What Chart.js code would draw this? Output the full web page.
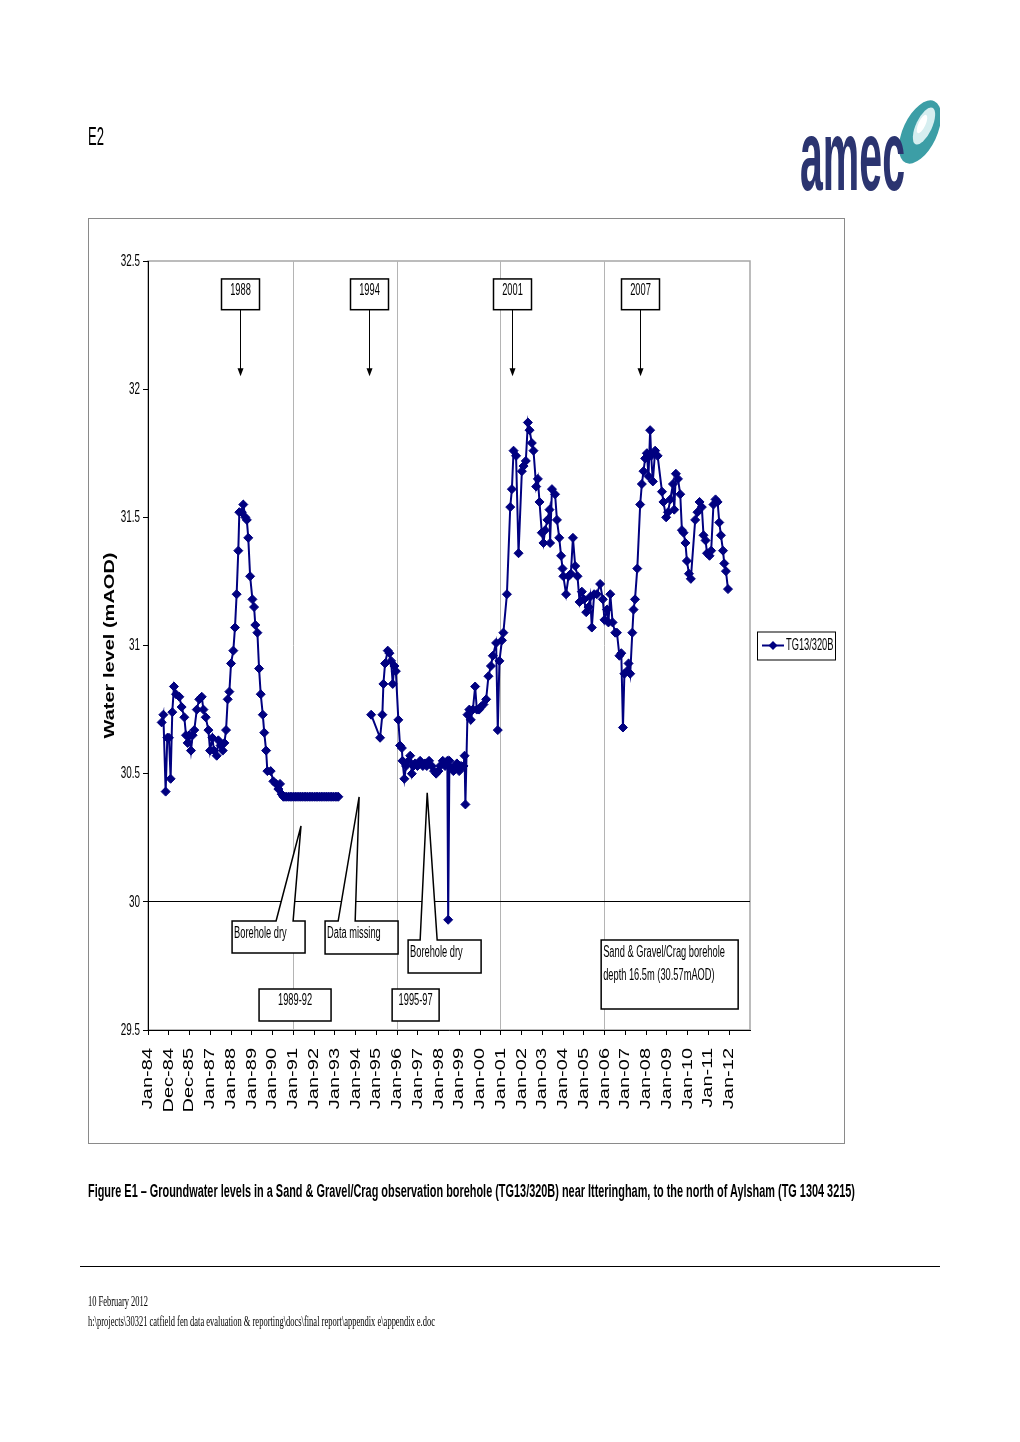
<!DOCTYPE html>
<html>
<head>
<meta charset="utf-8">
<script src="https://cdn.jsdelivr.net/npm/chart.js@4.4.0/dist/chart.umd.min.js"></script>
<style>
  body { margin: 0; background: #fff; width: 1020px; height: 1442px; position: relative; overflow: hidden; }
  .texto { position: absolute; white-space: nowrap; transform-origin: 0 0; line-height: 1; color: #000; filter: grayscale(1); }
  #e2 { left: 88px; top: 122px; font: 25px "Liberation Sans", Arial, sans-serif; }
  #logo { position: absolute; left: 790px; top: 95px; }
  #grafico { position: absolute; left: 88px; top: 218px; }
  #titulo { left: 88px; top: 1181px; font: bold 18px "Liberation Sans", Arial, sans-serif; }
  #regua { position: absolute; left: 80px; top: 1266px; width: 860px; border-top: 1.5px solid #000; }
  .rodape { left: 88px; font: 14px "Liberation Serif", "Times New Roman", serif; line-height: 20px; }
</style>
</head>
<body>
<div id="e2" class="texto">E2</div>
<svg id="logo" width="150" height="110" viewBox="0 0 150 110">
  <ellipse cx="130" cy="37" rx="17" ry="34" transform="rotate(25 130 37)" fill="#3c9ea6"/>
  <ellipse cx="134" cy="31" rx="8" ry="20" transform="rotate(25 134 31)" fill="#d6eef0"/>
  <ellipse cx="132" cy="29" rx="3.5" ry="10" transform="rotate(25 132 29)" fill="#ffffff"/>
  <text x="10" y="95" font-family="Liberation Sans, Arial, sans-serif" font-weight="bold" font-size="100" fill="#2b3470" textLength="105" lengthAdjust="spacingAndGlyphs">amec</text>
</svg>
<canvas id="grafico" width="757" height="926"></canvas>
<div id="titulo" class="texto">Figure E1 – Groundwater levels in a Sand &amp; Gravel/Crag observation borehole (TG13/320B) near Itteringham, to the north of Aylsham (TG 1304 3215)</div>
<div id="regua"></div>
<div id="rodape1" class="texto rodape" style="top:1292px">10 February 2012</div>
<div id="rodape2" class="texto rodape" style="top:1312px">h:\projects\30321 catfield fen data evaluation &amp; reporting\docs\final report\appendix e\appendix e.doc</div>

<script>
// datas das leituras em anos decimais (null no nível = período sem dados)
const datas = [
  1984.66, 1984.74, 1984.85, 1984.93, 1985.01, 1985.09, 1985.17, 1985.25, 1985.35, 1985.51,
  1985.62, 1985.75, 1985.83, 1985.91, 1985.99, 1986.07, 1986.15, 1986.23, 1986.35, 1986.47,
  1986.59, 1986.67, 1986.78, 1986.91, 1986.99, 1987.10, 1987.18, 1987.31, 1987.39, 1987.50,
  1987.60, 1987.68, 1987.76, 1987.84, 1987.92, 1988.00, 1988.11, 1988.19, 1988.27, 1988.35,
  1988.40, 1988.52, 1988.59, 1988.69, 1988.76, 1988.83, 1988.92, 1989.03, 1989.11, 1989.17,
  1989.27, 1989.35, 1989.43, 1989.53, 1989.60, 1989.69, 1989.75, 1989.91, 1990.04, 1990.17,
  1990.28, 1990.36, 1990.44, 1990.52,
  1990.60, 1990.68, 1990.77, 1990.85, 1990.93, 1991.02, 1991.10, 1991.18, 1991.27, 1991.35,
  1991.43, 1991.52, 1991.60, 1991.68, 1991.77, 1991.85, 1991.93, 1992.02, 1992.10, 1992.18,
  1992.27, 1992.35, 1992.43, 1992.52, 1992.60, 1992.68, 1992.77, 1992.85, 1992.93, 1993.02,
  1993.10, 1993.17,
  1994.00,
  1994.75, 1995.18, 1995.29, 1995.34, 1995.42, 1995.55, 1995.63, 1995.71, 1995.79, 1995.87,
  1995.94, 1996.06, 1996.14, 1996.23, 1996.26, 1996.35, 1996.43, 1996.55, 1996.63, 1996.71,
  1996.79, 1996.87, 1996.98, 1997.11, 1997.24, 1997.35, 1997.43, 1997.54, 1997.67, 1997.78,
  1997.88, 1997.99, 1998.07, 1998.20, 1998.31, 1998.42, 1998.46, 1998.52, 1998.64, 1998.71,
  1998.80, 1998.88, 1998.99, 1999.08, 1999.20, 1999.25, 1999.29, 1999.39, 1999.48, 1999.55,
  1999.65, 1999.76, 1999.84, 1999.95, 2000.03, 2000.16, 2000.29, 2000.40, 2000.52, 2000.61,
  2000.77, 2000.85, 2000.93, 2001.05, 2001.12,
  2001.29, 2001.45, 2001.53, 2001.61, 2001.73, 2001.85, 2002.01, 2002.09, 2002.20, 2002.30,
  2002.38, 2002.49, 2002.57, 2002.70, 2002.78, 2002.86, 2002.97, 2003.05, 2003.13, 2003.24,
  2003.34, 2003.37, 2003.46, 2003.61, 2003.70, 2003.81, 2003.90, 2003.97, 2004.01, 2004.14,
  2004.26, 2004.37, 2004.47, 2004.58, 2004.69, 2004.79, 2004.90, 2005.01, 2005.11, 2005.22,
  2005.30, 2005.38, 2005.49, 2005.62, 2005.78, 2005.91, 2005.99, 2006.11, 2006.18, 2006.27,
  2006.38, 2006.51, 2006.59, 2006.71, 2006.80, 2006.88, 2006.95, 2007.07, 2007.15, 2007.23,
  2007.33, 2007.39, 2007.46, 2007.57, 2007.71, 2007.79, 2007.87, 2007.95, 2008.03, 2008.11,
  2008.19, 2008.24, 2008.32, 2008.43, 2008.55, 2008.76, 2008.83, 2008.96, 2009.05, 2009.16,
  2009.29, 2009.35, 2009.43, 2009.53, 2009.64, 2009.72, 2009.80, 2009.89, 2009.96, 2010.06,
  2010.15, 2010.36, 2010.47, 2010.57, 2010.68, 2010.76, 2010.86, 2010.93, 2011.05, 2011.13,
  2011.24, 2011.34, 2011.44, 2011.52, 2011.60, 2011.70, 2011.76, 2011.84, 2011.94
];

// nível de água (mAOD) em cada data
const niveis = [
  30.70, 30.73, 30.43, 30.64, 30.64, 30.48, 30.74, 30.84, 30.81, 30.80,
  30.76, 30.72, 30.65, 30.62, 30.65, 30.59, 30.65, 30.67, 30.75, 30.79,
  30.80, 30.75, 30.72, 30.67, 30.59, 30.64, 30.59, 30.57, 30.63, 30.61,
  30.59, 30.62, 30.67, 30.79, 30.82, 30.93, 30.98, 31.07, 31.20, 31.37,
  31.52, 31.52, 31.55, 31.50, 31.49, 31.42, 31.27, 31.18, 31.15, 31.08,
  31.05, 30.91, 30.81, 30.73, 30.66, 30.59, 30.51, 30.51, 30.47, 30.46,
  30.44, 30.46, 30.42, 30.41,
  30.41, 30.41, 30.41, 30.41, 30.41, 30.41, 30.41, 30.41, 30.41, 30.41,
  30.41, 30.41, 30.41, 30.41, 30.41, 30.41, 30.41, 30.41, 30.41, 30.41,
  30.41, 30.41, 30.41, 30.41, 30.41, 30.41, 30.41, 30.41, 30.41, 30.41,
  30.41, 30.41,
  null,
  30.73, 30.64, 30.73, 30.85, 30.93, 30.98, 30.97, 30.94, 30.85, 30.92,
  30.90, 30.71, 30.61, 30.60, 30.55, 30.48, 30.53, 30.55, 30.57, 30.50,
  30.53, 30.54, 30.53, 30.55, 30.53, 30.54, 30.53, 30.55, 30.53, 30.51,
  30.50, 30.51, 30.53, 30.55, 30.53, 30.55, 29.93, 30.55, 30.52, 30.51,
  30.53, 30.54, 30.51, 30.53, 30.53, 30.57, 30.38, 30.73, 30.75, 30.71,
  30.75, 30.84, 30.75, 30.75, 30.76, 30.77, 30.79, 30.88, 30.92, 30.96,
  31.01, 30.67, 30.94, 31.02, 31.05,
  31.20, 31.54, 31.61, 31.76, 31.74, 31.36, 31.68, 31.70, 31.72, 31.87,
  31.84, 31.79, 31.76, 31.62, 31.65, 31.56, 31.44, 31.40, 31.45, 31.49,
  31.53, 31.40, 31.61, 31.59, 31.49, 31.42, 31.35, 31.30, 31.27, 31.20,
  31.27, 31.28, 31.42, 31.31, 31.27, 31.17, 31.21, 31.18, 31.13, 31.15,
  31.19, 31.07, 31.20, 31.20, 31.24, 31.18, 31.10, 31.14, 31.09, 31.20,
  31.09, 31.05, 31.05, 30.96, 30.97, 30.68, 30.89, 30.90, 30.93, 30.89,
  31.05, 31.14, 31.18, 31.30, 31.55, 31.63, 31.68, 31.73, 31.75, 31.66,
  31.84, 31.74, 31.64, 31.76, 31.74, 31.60, 31.56, 31.50, 31.52, 31.57,
  31.63, 31.53, 31.67, 31.65, 31.59, 31.45, 31.44, 31.40, 31.33, 31.28,
  31.26, 31.49, 31.52, 31.56, 31.54, 31.43, 31.41, 31.36, 31.35, 31.37,
  31.55, 31.57, 31.56, 31.48, 31.43, 31.37, 31.32, 31.29, 31.22
];

// posições e textos dos rótulos do eixo x
const anosTicks = [1984, 1985, 1986, 1987, 1988, 1989, 1990, 1991, 1992, 1993, 1994, 1995, 1996, 1997, 1998,
  1999, 2000, 2001, 2002, 2003, 2004, 2005, 2006, 2007, 2008, 2009, 2010, 2011, 2012];
const rotulosTicks = ['Jan-84', 'Dec-84', 'Dec-85', 'Jan-87', 'Jan-88', 'Jan-89', 'Jan-90', 'Jan-91', 'Jan-92',
  'Jan-93', 'Jan-94', 'Jan-95', 'Jan-96', 'Jan-97', 'Jan-98', 'Jan-99', 'Jan-00', 'Jan-01', 'Jan-02', 'Jan-03',
  'Jan-04', 'Jan-05', 'Jan-06', 'Jan-07', 'Jan-08', 'Jan-09', 'Jan-10', 'Jan-11', 'Jan-12'];
// linhas verticais cinzentas
const anosGrade = [1991, 1996, 2001, 2006];
// nível da linha preta horizontal
const nivelBase = 30;

// caixas com seta no topo do gráfico
const marcos = [
  { texto: '1988', ano: 1988.43 },
  { texto: '1994', ano: 1994.63 },
  { texto: '2001', ano: 2001.54 },
  { texto: '2007', ano: 2007.69 }
];

// caixas de texto na parte de baixo (ponta = onde aponta o bico)
const chamadas = [
  { linhas: ['Borehole dry'], ano: 1988.05, nivel: 29.925, w: 73, h: 32, bico: [1990.17, 1990.99], ponta: [1991.37, 30.296] },
  { linhas: ['Data missing'], ano: 1992.53, nivel: 29.925, w: 73, h: 33, bico: [1993.16, 1993.98], ponta: [1994.17, 30.409] },
  { linhas: ['Borehole dry'], ano: 1996.53, nivel: 29.851, w: 73, h: 33, bico: [1997.11, 1997.93], ponta: [1997.45, 30.425] },
  { linhas: ['1989-92'], ano: 1989.35, nivel: 29.66, w: 72, h: 32, centro: true },
  { linhas: ['1995-97'], ano: 1995.76, nivel: 29.66, w: 47, h: 32, centro: true },
  { linhas: ['Sand & Gravel/Crag borehole', 'depth 16.5m (30.57mAOD)'], ano: 2005.83, nivel: 29.851, w: 137, h: 69 }
];

// o documento original está comprimido na horizontal
const ESCALA = 0.58;
const FONTE = '"Liberation Sans", Arial, sans-serif';
const AZUL = '#000080';

// escreve um texto comprimido na horizontal
function escreve(ctx, texto, x, y, alinhamento, tamanho) {
  ctx.save();
  ctx.font = tamanho + 'px ' + FONTE;
  ctx.translate(x, y);
  ctx.scale(ESCALA, 1);
  ctx.textAlign = alinhamento;
  ctx.textBaseline = 'middle';
  ctx.fillStyle = '#000';
  ctx.fillText(texto, 0, 0);
  ctx.restore();
}

// desenha um losango como os marcadores da série
function losango(ctx, x, y, r) {
  ctx.beginPath();
  ctx.moveTo(x, y - r);
  ctx.lineTo(x + r, y);
  ctx.lineTo(x, y + r);
  ctx.lineTo(x - r, y);
  ctx.closePath();
  ctx.fill();
}

const desenhos = {
  id: 'desenhos',
  beforeDraw(chart) {
    const { ctx, chartArea: a } = chart;
    ctx.save();
    ctx.fillStyle = '#fff';
    ctx.fillRect(0, 0, chart.width, chart.height);
    ctx.strokeStyle = '#8a8a8a';
    ctx.lineWidth = 1;
    ctx.strokeRect(0.5, 0.5, chart.width - 1, chart.height - 1);
    ctx.strokeStyle = '#a6a6a6';
    ctx.lineWidth = 1.5;
    ctx.strokeRect(a.left, a.top, a.right - a.left, a.bottom - a.top);
    ctx.restore();
  },
  afterDraw(chart) {
    const { ctx, chartArea: a } = chart;
    const xs = chart.scales.x;
    const ys = chart.scales.y;
    ctx.save();

    // rótulos do eixo y
    ys.ticks.forEach((t) => {
      escreve(ctx, String(t.value), a.left - 8, ys.getPixelForValue(t.value), 'right', 17);
    });

    // rótulos do eixo x, na vertical
    ctx.font = '20px ' + FONTE;
    ctx.fillStyle = '#000';
    anosTicks.forEach((ano, i) => {
      ctx.save();
      ctx.translate(xs.getPixelForValue(ano), a.bottom + 18);
      ctx.rotate(-Math.PI / 2);
      ctx.scale(1, 0.71);
      ctx.textAlign = 'right';
      ctx.textBaseline = 'middle';
      ctx.fillText(rotulosTicks[i], 0, 0);
      ctx.restore();
    });

    // título do eixo y
    ctx.save();
    ctx.translate(22, (a.top + a.bottom) / 2);
    ctx.rotate(-Math.PI / 2);
    ctx.scale(1, 0.71);
    ctx.font = 'bold 20px ' + FONTE;
    ctx.textAlign = 'center';
    ctx.textBaseline = 'middle';
    ctx.fillText('Water level (mAOD)', 0, 0);
    ctx.restore();

    // caixas com seta no topo
    ctx.strokeStyle = '#000';
    ctx.lineWidth = 1.5;
    marcos.forEach((m) => {
      const cx = Math.round(xs.getPixelForValue(m.ano)) + 0.5;
      const topo = ys.getPixelForValue(32.43);
      const base = ys.getPixelForValue(32.31);
      const ponta = ys.getPixelForValue(32.05);
      ctx.fillStyle = '#fff';
      ctx.fillRect(cx - 19, topo, 38, base - topo);
      ctx.strokeRect(cx - 19, topo, 38, base - topo);
      escreve(ctx, m.texto, cx, topo + 12, 'center', 16);
      ctx.lineWidth = 1;
      ctx.beginPath();
      ctx.moveTo(cx, base);
      ctx.lineTo(cx, ponta - 6);
      ctx.stroke();
      ctx.fillStyle = '#000';
      ctx.beginPath();
      ctx.moveTo(cx - 3, ponta - 8);
      ctx.lineTo(cx + 3, ponta - 8);
      ctx.lineTo(cx, ponta);
      ctx.closePath();
      ctx.fill();
      ctx.lineWidth = 1.5;
    });

    // caixas de texto em baixo
    chamadas.forEach((c) => {
      const x0 = xs.getPixelForValue(c.ano);
      const y0 = ys.getPixelForValue(c.nivel);
      ctx.beginPath();
      ctx.moveTo(x0, y0);
      if (c.bico) {
        ctx.lineTo(xs.getPixelForValue(c.bico[0]), y0);
        ctx.lineTo(xs.getPixelForValue(c.ponta[0]), ys.getPixelForValue(c.ponta[1]));
        ctx.lineTo(xs.getPixelForValue(c.bico[1]), y0);
      }
      ctx.lineTo(x0 + c.w, y0);
      ctx.lineTo(x0 + c.w, y0 + c.h);
      ctx.lineTo(x0, y0 + c.h);
      ctx.closePath();
      ctx.fillStyle = '#fff';
      ctx.fill();
      ctx.stroke();
      c.linhas.forEach((l, i) => {
        if (c.centro) escreve(ctx, l, x0 + c.w / 2, y0 + 12 + i * 23, 'center', 16);
        else escreve(ctx, l, x0 + 2, y0 + 13 + i * 23, 'left', 16);
      });
    });

    // legenda
    const lx = a.right + 7;
    const ly = (a.top + a.bottom) / 2;
    ctx.fillStyle = '#fff';
    ctx.fillRect(lx, ly - 14, 78, 28);
    ctx.strokeStyle = '#000';
    ctx.lineWidth = 1;
    ctx.strokeRect(lx + 0.5, ly - 13.5, 78, 28);
    ctx.strokeStyle = AZUL;
    ctx.lineWidth = 2;
    ctx.beginPath();
    ctx.moveTo(lx + 5, ly);
    ctx.lineTo(lx + 27, ly);
    ctx.stroke();
    ctx.fillStyle = AZUL;
    losango(ctx, lx + 16, ly, 4.5);
    escreve(ctx, 'TG13/320B', lx + 29, ly, 'left', 16);

    ctx.restore();
  }
};

const grafico = document.getElementById('grafico');

const graficoNiveis = new Chart(grafico, {
  type: 'line',
  data: {
    datasets: [{
      label: 'TG13/320B',
      data: datas.map((d, i) => ({ x: d, y: niveis[i] })),
      borderColor: AZUL,
      backgroundColor: AZUL,
      borderWidth: 2,
      pointStyle: 'rectRot',
      pointRadius: 4.5,
      pointBorderWidth: 1,
      spanGaps: false,
      tension: 0
    }]
  },
  options: {
    responsive: false,
    animation: false,
    layout: { autoPadding: false, padding: { top: 43, right: 95, left: 0, bottom: 0 } },
    plugins: { legend: { display: false }, tooltip: { enabled: false } },
    scales: {
      x: {
        type: 'linear',
        min: 1984,
        max: 2013,
        afterBuildTicks: (scale) => { scale.ticks = anosTicks.map((v) => ({ value: v })); },
        afterFit: (scale) => { scale.height = 114; },
        ticks: { display: false },
        border: { color: '#000', width: 1 },
        grid: {
          color: (c) => (c.tick && anosGrade.includes(c.tick.value) ? '#b4b4b4' : 'rgba(0,0,0,0)'),
          tickColor: '#000',
          tickLength: 5
        }
      },
      y: {
        min: 29.5,
        max: 32.5,
        afterFit: (scale) => { scale.width = 60; },
        ticks: { stepSize: 0.5, display: false },
        border: { color: '#000', width: 1 },
        grid: {
          color: (c) => (c.tick && c.tick.value === nivelBase ? '#000' : 'rgba(0,0,0,0)'),
          tickColor: '#000',
          tickLength: 5
        }
      }
    }
  },
  plugins: [desenhos]
});

// comprime os textos da página para a largura que têm no documento
function ajustaLargura(id, largura) {
  const el = document.getElementById(id);
  const real = el.getBoundingClientRect().width;
  el.style.transform = 'scaleX(' + (largura / real) + ')';
}
ajustaLargura('e2', 16);
ajustaLargura('titulo', 767);
ajustaLargura('rodape1', 60);
ajustaLargura('rodape2', 347);
</script>
</body>
</html>
